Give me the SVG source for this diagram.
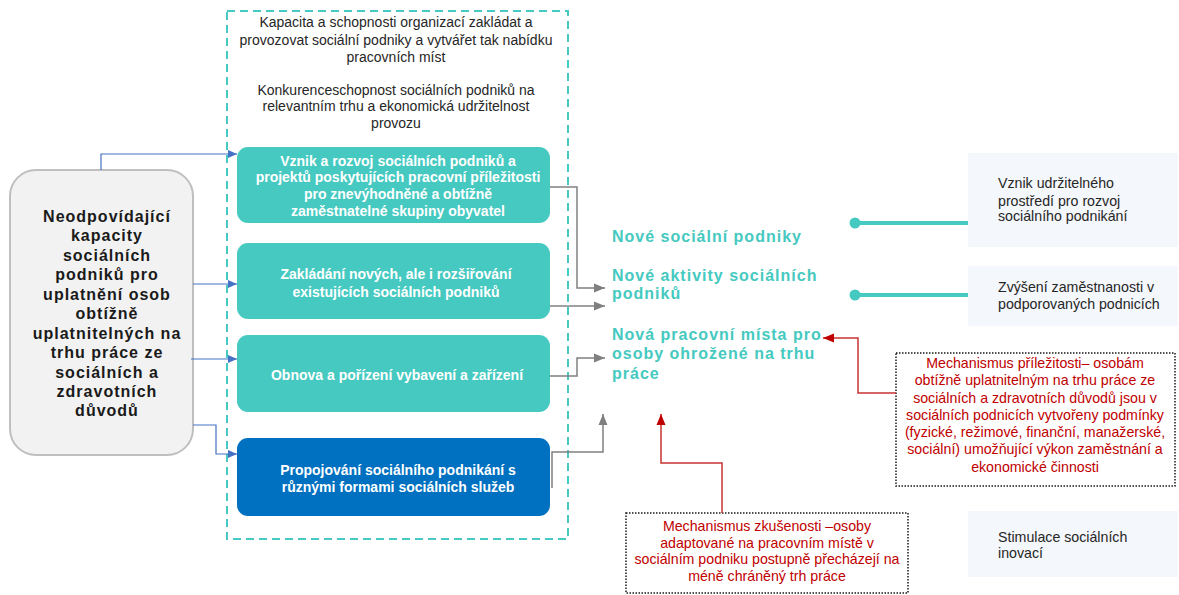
<svg xmlns="http://www.w3.org/2000/svg" width="1179" height="595" viewBox="0 0 1179 595">
<defs>
<style>
.t{font-family:"Liberation Sans",Arial,sans-serif}
.lb{font-size:16px;font-weight:bold;fill:#1a1a1a;letter-spacing:1px;text-anchor:middle}
.tp{font-size:14px;fill:#262626;text-anchor:middle}
.bx{font-size:14px;font-weight:bold;fill:#ffffff;text-anchor:middle}
.oc{font-size:16px;font-weight:bold;fill:#45c9c0;letter-spacing:1px}
.rd{font-size:14.2px;fill:#c00000;text-anchor:middle}
.rt{font-size:14.2px;fill:#262626}
.blue{stroke:#4472c4;stroke-width:1.2;fill:none}
.gray{stroke:#808080;stroke-width:1.5;fill:none}
.red{stroke:#c83232;stroke-width:1.5;fill:none}
.teal{fill:#45c9c0}
</style>
<marker id="ab" markerWidth="10" markerHeight="10" refX="9" refY="5" orient="auto" markerUnits="userSpaceOnUse"><path d="M0,1 L9,5 L0,9 Z" fill="#4472c4"/></marker>
<marker id="ag" markerWidth="12" markerHeight="12" refX="11" refY="6" orient="auto" markerUnits="userSpaceOnUse"><path d="M0,1.5 L11,6 L0,10.5 Z" fill="#808080"/></marker>
<marker id="ar" markerWidth="12" markerHeight="12" refX="11" refY="6" orient="auto" markerUnits="userSpaceOnUse"><path d="M0,1.5 L11,6 L0,10.5 Z" fill="#c00000"/></marker>
</defs>
<rect width="1179" height="595" fill="#ffffff"/>

<g id="frame">
<rect x="227" y="11" width="341" height="528" fill="none" stroke="#45c9c0" stroke-width="2" stroke-dasharray="8,5"/>
<text class="t tp"><tspan x="396" y="27">Kapacita a schopnosti organizací zakládat a</tspan><tspan x="396" y="45">provozovat sociální podniky a vytvářet tak nabídku</tspan><tspan x="396" y="62">pracovních míst</tspan><tspan x="396" y="95">Konkurenceschopnost sociálních podniků na</tspan><tspan x="396" y="111">relevantním trhu a ekonomická udržitelnost</tspan><tspan x="396" y="128">provozu</tspan></text>
</g>

<g id="problem">
<rect x="10" y="170" width="183" height="285" rx="26" fill="#f2f2f2" stroke="#bfbfbf" stroke-width="2"/>
<text class="t lb"><tspan x="107" y="222">Neodpovídající</tspan><tspan x="107" y="241">kapacity</tspan><tspan x="107" y="261">sociálních</tspan><tspan x="107" y="280">podniků pro</tspan><tspan x="107" y="300">uplatnění osob</tspan><tspan x="107" y="319">obtížně</tspan><tspan x="107" y="339">uplatnitelných na</tspan><tspan x="107" y="358">trhu práce ze</tspan><tspan x="107" y="378">sociálních a</tspan><tspan x="107" y="397">zdravotních</tspan><tspan x="107" y="416">důvodů</tspan></text>
</g>

<g id="act1">
<rect x="237" y="147" width="313" height="76" rx="11" fill="#45c9c0"/>
<text class="t bx"><tspan x="398" y="166">Vznik a rozvoj sociálních podniků a</tspan><tspan x="398" y="182">projektů poskytujících pracovní příležitosti</tspan><tspan x="398" y="199">pro znevýhodněné a obtížně</tspan><tspan x="398" y="216">zaměstnatelné skupiny obyvatel</tspan></text>
</g>
<g id="act2">
<rect x="237" y="243" width="313" height="76" rx="11" fill="#45c9c0"/>
<text class="t bx"><tspan x="396" y="279">Zakládání nových, ale i rozšiřování</tspan><tspan x="396" y="297">existujících sociálních podniků</tspan></text>
</g>
<g id="act3">
<rect x="237" y="335" width="313" height="77" rx="11" fill="#45c9c0"/>
<text class="t bx"><tspan x="397" y="380">Obnova a pořízení vybavení a zařízení</tspan></text>
</g>
<g id="act4">
<rect x="237" y="438" width="313" height="78" rx="11" fill="#0070c0"/>
<text class="t bx"><tspan x="398" y="475">Propojování sociálního podnikání s</tspan><tspan x="398" y="492">různými formami sociálních služeb</tspan></text>
</g>

<g id="outcomes">
<text class="t oc" x="612" y="242">Nové sociální podniky</text>
<text class="t oc"><tspan x="612" y="281">Nové aktivity sociálních</tspan><tspan x="612" y="299">podniků</tspan></text>
<text class="t oc"><tspan x="612" y="340">Nová pracovní místa pro</tspan><tspan x="612" y="359">osoby ohrožené na trhu</tspan><tspan x="612" y="379">práce</tspan></text>
</g>

<g id="mech1">
<rect x="896" y="353" width="279" height="133" fill="none" stroke="#1a1a1a" stroke-width="1.5" stroke-dasharray="1.5,1.5"/>
<text class="t rd"><tspan x="1035" y="368">Mechanismus příležitosti– osobám</tspan><tspan x="1035" y="385">obtížně uplatnitelným na trhu práce ze</tspan><tspan x="1035" y="403">sociálních a zdravotních důvodů jsou v</tspan><tspan x="1035" y="420">sociálních podnicích vytvořeny podmínky</tspan><tspan x="1035" y="437">(fyzické, režimové, finanční, manažerské,</tspan><tspan x="1035" y="454">sociální) umožňující výkon zaměstnání a</tspan><tspan x="1035" y="472">ekonomické činnosti</tspan></text>
</g>
<g id="mech2">
<rect x="626" y="513" width="282" height="80" fill="none" stroke="#1a1a1a" stroke-width="1.5" stroke-dasharray="1.5,1.5"/>
<text class="t rd"><tspan x="767" y="531">Mechanismus zkušenosti –osoby</tspan><tspan x="767" y="548">adaptované na pracovním místě v</tspan><tspan x="767" y="564">sociálním podniku postupně přecházejí na</tspan><tspan x="767" y="581">méně chráněný trh práce</tspan></text>
</g>

<g id="impact1">
<rect x="968" y="153" width="210" height="94" fill="#f4f7fb"/>
<text class="t rt"><tspan x="998" y="188">Vznik udržitelného</tspan><tspan x="998" y="206">prostředí pro rozvoj</tspan><tspan x="998" y="221">sociálního podnikání</tspan></text>
</g>
<g id="impact2">
<rect x="968" y="266" width="210" height="60" fill="#f4f7fb"/>
<text class="t rt"><tspan x="998" y="292">Zvýšení zaměstnanosti v</tspan><tspan x="998" y="309">podporovaných podnicích</tspan></text>
</g>
<g id="impact3">
<rect x="968" y="511" width="210" height="66" fill="#f4f7fb"/>
<text class="t rt"><tspan x="998" y="542">Stimulace sociálních</tspan><tspan x="998" y="558">inovací</tspan></text>
</g>

<g id="connectors">
<path class="blue" d="M101,170 V154 H237" marker-end="url(#ab)"/>
<path class="blue" d="M193,284 H237" marker-end="url(#ab)"/>
<path class="blue" d="M191,359 H237" marker-end="url(#ab)"/>
<path class="blue" d="M193,425 H216 V454 H237" marker-end="url(#ab)"/>
<path class="gray" d="M550,187 H577 V288 H605" marker-end="url(#ag)"/>
<path class="gray" d="M550,306 H605" marker-end="url(#ag)"/>
<path class="gray" d="M550,376 H577 V358 H605" marker-end="url(#ag)"/>
<path class="gray" d="M552,488 V452 H603 V414" marker-end="url(#ag)"/>
<path class="red" d="M896,393 H858 V338 H823" marker-end="url(#ar)"/>
<path class="red" d="M722,513 V463 H661 V414" marker-end="url(#ar)"/>
<line x1="855" y1="223" x2="968" y2="223" stroke="#45c9c0" stroke-width="4"/>
<circle class="teal" cx="855" cy="223" r="5.5"/>
<line x1="855" y1="295" x2="968" y2="295" stroke="#45c9c0" stroke-width="4"/>
<circle class="teal" cx="855" cy="295" r="5.5"/>
</g>
</svg>
